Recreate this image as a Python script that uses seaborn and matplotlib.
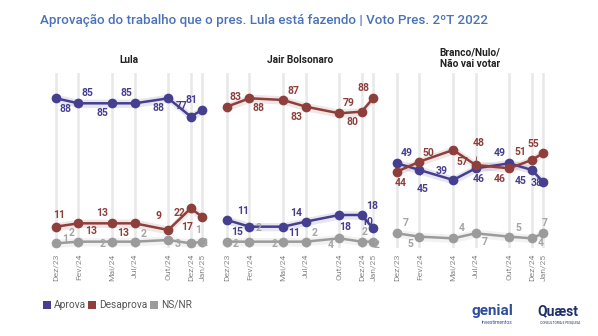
import numpy as np
import pandas as pd
import matplotlib
matplotlib.use("Agg")
import matplotlib.pyplot as plt
from matplotlib.patches import Rectangle
import seaborn as sns

# ---------------- data ----------------
months = ["Dez/23", "Fev/24", "Mai/24", "Jul/24", "Out/24", "Dez/24", "Jan/25"]
month_pos = [0, 2, 5, 7, 10, 12, 13]
panels = ["Lula", "Jair Bolsonaro", "Branco/Nulo/\nNão vai votar"]
series = ["Aprova", "Desaprova", "NS/NR"]

lula_aprova = [88, 85, 85, 85, 88, 77, 81]
lula_desaprova = [11, 13, 13, 13, 9, 22, 17]
lula_nsnr = [1, 2, 2, 2, 3, 1, 2]

bolso_aprova = [15, 11, 11, 14, 18, 18, 10]
bolso_desaprova = [83, 88, 87, 83, 79, 80, 88]
bolso_nsnr = [2, 2, 2, 2, 4, 2, 2]

bnn_aprova = [49, 45, 39, 46, 49, 45, 38]
bnn_desaprova = [44, 50, 57, 48, 46, 51, 55]
bnn_nsnr = [7, 5, 4, 7, 5, 4, 7]

values = {
    panels[0]: [lula_aprova, lula_desaprova, lula_nsnr],
    panels[1]: [bolso_aprova, bolso_desaprova, bolso_nsnr],
    panels[2]: [bnn_aprova, bnn_desaprova, bnn_nsnr],
}

# ---------------- style ----------------
sns.set_theme(style="white")
plt.rcParams["font.family"] = ["Roboto", "DejaVu Sans"]

colors = {"Aprova": "#463f8f", "Desaprova": "#8e3f3c", "NS/NR": "#9b9b9b"}
label_colors = {"Aprova": "#463f8f", "Desaprova": "#8e3f3c", "NS/NR": "#a5a5a5"}

# label offsets (pixels, dy up) per panel / series / point
offsets = {
    panels[0]: {
        "Aprova": [(9, -11), (9, 10), (-10, -10), (-8, 10), (-10, -10), (-9, 11), (-10, 10)],
        "Desaprova": [(3, 12), (13, -8), (-10, 10), (-11, -10), (-10, 14), (-11, -5), (-15, -10)],
        "NS/NR": [(9, 4), (-7, 9), (-10, -2), (9, 8), (9, -4), (7, 13), (3, -1)],
    },
    panels[1]: {
        "Aprova": [(10, -12), (-6, 16), (11, -6), (-9, 9), (6, -12), (10, 9), (-6, 6)],
        "Desaprova": [(9, 10), (9, -10), (10, 9), (-9, -10), (9, 10), (-9, -10), (-9, 10)],
        "NS/NR": [(9, -2), (9, 14), (-9, -2), (9, 9), (-9, -7), (3, 10), (4, -3)],
    },
    panels[2]: {
        "Aprova": [(10, 10), (3, -19), (-11, 9), (3, -11), (-10, 10), (-11, -11), (-6, -1)],
        "Desaprova": [(4, -11), (9, 9), (9, -12), (3, 22), (-10, -11), (-11, 8), (-10, 9)],
        "NS/NR": [(9, 10), (-9, -7), (9, 10), (9, -9), (9, 9), (9, -5), (2, 10)],
    },
}
leaders = {(0, "Aprova", 5), (0, "Desaprova", 4), (1, "Aprova", 1), (2, "Aprova", 1), (2, "Desaprova", 3)}

fig = plt.figure(figsize=(5.98, 3.36), dpi=100)
W, H = 598, 336

def px_axes(left, top, width, height):
    return fig.add_axes([left / W, 1 - (top + height) / H, width / W, height / H])

pad = 0.6
x_span_px = 146.0
unit = x_span_px / 13
axw = unit * (13 + 2 * pad)
lefts = [56 - pad * unit, 227 - pad * unit, 397 - pad * unit]
ylo, yhi = -2, 103
ypx = 1.667
top_px = 245 - yhi * ypx
axh = (yhi - ylo) * ypx

for pi, (panel, left) in enumerate(zip(panels, lefts)):
    ax = px_axes(left, top_px, axw, axh)
    rows = []
    for s, vals in zip(series, values[panel]):
        for m, p, v in zip(months, month_pos, vals):
            rows.append({"mes": m, "x": p, "serie": s, "valor": v})
    df = pd.DataFrame(rows)
    for x in month_pos:
        ax.axvline(x, color="#e8e8e8", lw=1.8, zorder=0)
    for s in series:
        d = df[df.serie == s]
        ax.fill_between(d.x, d.valor - 2.5, d.valor + 2.5, color=colors[s], alpha=0.13, lw=0, zorder=1)
    sns.lineplot(data=df, x="x", y="valor", hue="serie", palette=colors, marker="o",
                 markersize=7, markeredgewidth=0, linewidth=1.8, legend=False, ax=ax, zorder=3)
    for s in series:
        d = df[df.serie == s].reset_index(drop=True)
        for i, r in d.iterrows():
            dx, dy = offsets[panel][s][i]
            kw = {}
            if (pi, s, i) in leaders:
                kw["arrowprops"] = dict(arrowstyle="-", lw=0.6, color=colors[s], shrinkA=4, shrinkB=3)
            ax.annotate(str(r.valor), (r.x, r.valor), xytext=(dx, dy), textcoords="offset pixels",
                        ha="center", va="center", fontsize=7.5, fontweight="bold",
                        color=label_colors[s], zorder=4, **kw)
    ax.set_xlim(-pad, 13 + pad)
    ax.set_ylim(ylo, yhi)
    ax.set_xticks(month_pos)
    ax.set_xticklabels(months, rotation=90, fontsize=6.1, color="#8a8a8a")
    ax.tick_params(axis="x", length=0, pad=4)
    ax.set_yticks([])
    ax.set_xlabel("")
    ax.set_ylabel("")
    for sp in ax.spines.values():
        sp.set_visible(False)
    ax.patch.set_alpha(0)
    cx = (left + axw / 2) / W
    ty = 1 - (58 if "\n" in panel else 60) / H
    fig.text(cx, ty, panel, ha="center", va="center", fontsize=7.3, fontweight="bold",
             color="#222222", linespacing=1.15)

# title
fig.text(40 / W, 1 - 20 / H, "Aprovação do trabalho que o pres. Lula está fazendo | Voto Pres. 2ºT 2022",
         ha="left", va="center", fontsize=9.6, fontweight="medium", color="#4a72b8")

# legend
for s, lx in zip(series, [43, 88, 150]):
    fig.add_artist(Rectangle((lx / W, 1 - 309 / H), 8 / W, 8 / H, transform=fig.transFigure,
                             facecolor=colors[s], edgecolor="none"))
    fig.text((lx + 11) / W, 1 - 305 / H, s, ha="left", va="center", fontsize=7.3, color="#555555")

# logos as text
fig.text(492 / W, 1 - 311 / H, "genial", ha="center", va="center", fontsize=11, fontweight="bold", color="#2f4c9c")
fig.text(497 / W, 1 - 323 / H, "investimentos", ha="center", va="center", fontsize=3.5, color="#2f4c9c")
fig.text(558 / W, 1 - 311 / H, "Quæst", ha="center", va="center", fontsize=10, fontweight="bold", color="#1f2f6b")
fig.text(560 / W, 1 - 323 / H, "CONSULTORIA E PESQUISA", ha="center", va="center", fontsize=2.3, color="#1f2f6b")

fig.savefig("out.png", dpi=100)
